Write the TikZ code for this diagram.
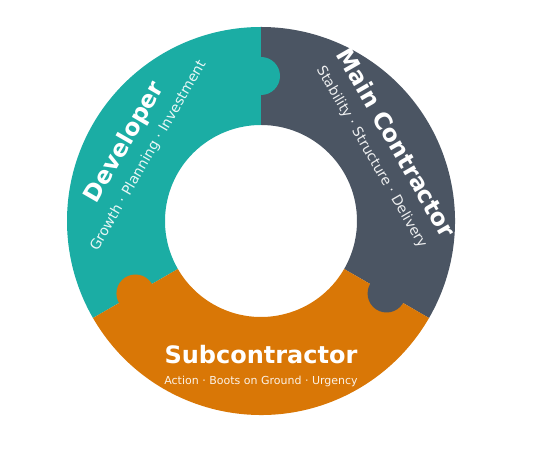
\documentclass[tikz,border=0pt]{standalone}
\usepackage{fontspec}
\setmainfont{DejaVu Sans}
\usepackage{tikz}
\usetikzlibrary{calc}
\definecolor{devteal}{RGB}{27,173,164}
\definecolor{mcslate}{RGB}{75,85,99}
\definecolor{subamber}{RGB}{217,119,6}

\begin{document}
\begin{tikzpicture}[x=1pt,y=1pt,
		title/.style={text=white,font=\fontsize{23.5}{26}\selectfont\bfseries,inner sep=0pt},
		tagline/.style={text=white,text opacity=0.9,font=\fontsize{14}{16}\selectfont,inner sep=0pt}]
		\useasboundingbox (0,0) rectangle (541,457);
		\begin{scope}[shift={(261,236)}]
			% ring pieces
			\foreach \a/\col in {90/devteal,-30/mcslate,210/subamber}
				\fill[\col] (\a:194) arc (\a:\a+120:194) -- (\a+120:96) arc (\a+120:\a:96) -- cycle;
			% puzzle tabs
			\foreach \a/\col in {90/devteal,-30/mcslate,210/subamber}
				\fill[\col] (\a:145) circle (19);
			\node[title,rotate=60] (dev) at (150:157) {Developer};
			\node[tagline,rotate=60] (devtag) at (150:130) {Growth · Planning · Investment};
			\node[title,rotate=-60] (main) at (30:156.5) {Main Contractor};
			\node[tagline,rotate=-60] (maintag) at (30:127.5) {Stability · Structure · Delivery};
			\node[title,font=\fontsize{24}{26}\selectfont\bfseries] (sub) at (270:134) {Subcontractor};
			\node[tagline,font=\fontsize{11}{12}\selectfont] (subtag) at (270:160) {Action · Boots on Ground · Urgency};
		\end{scope}
	\end{tikzpicture}
\end{document}
